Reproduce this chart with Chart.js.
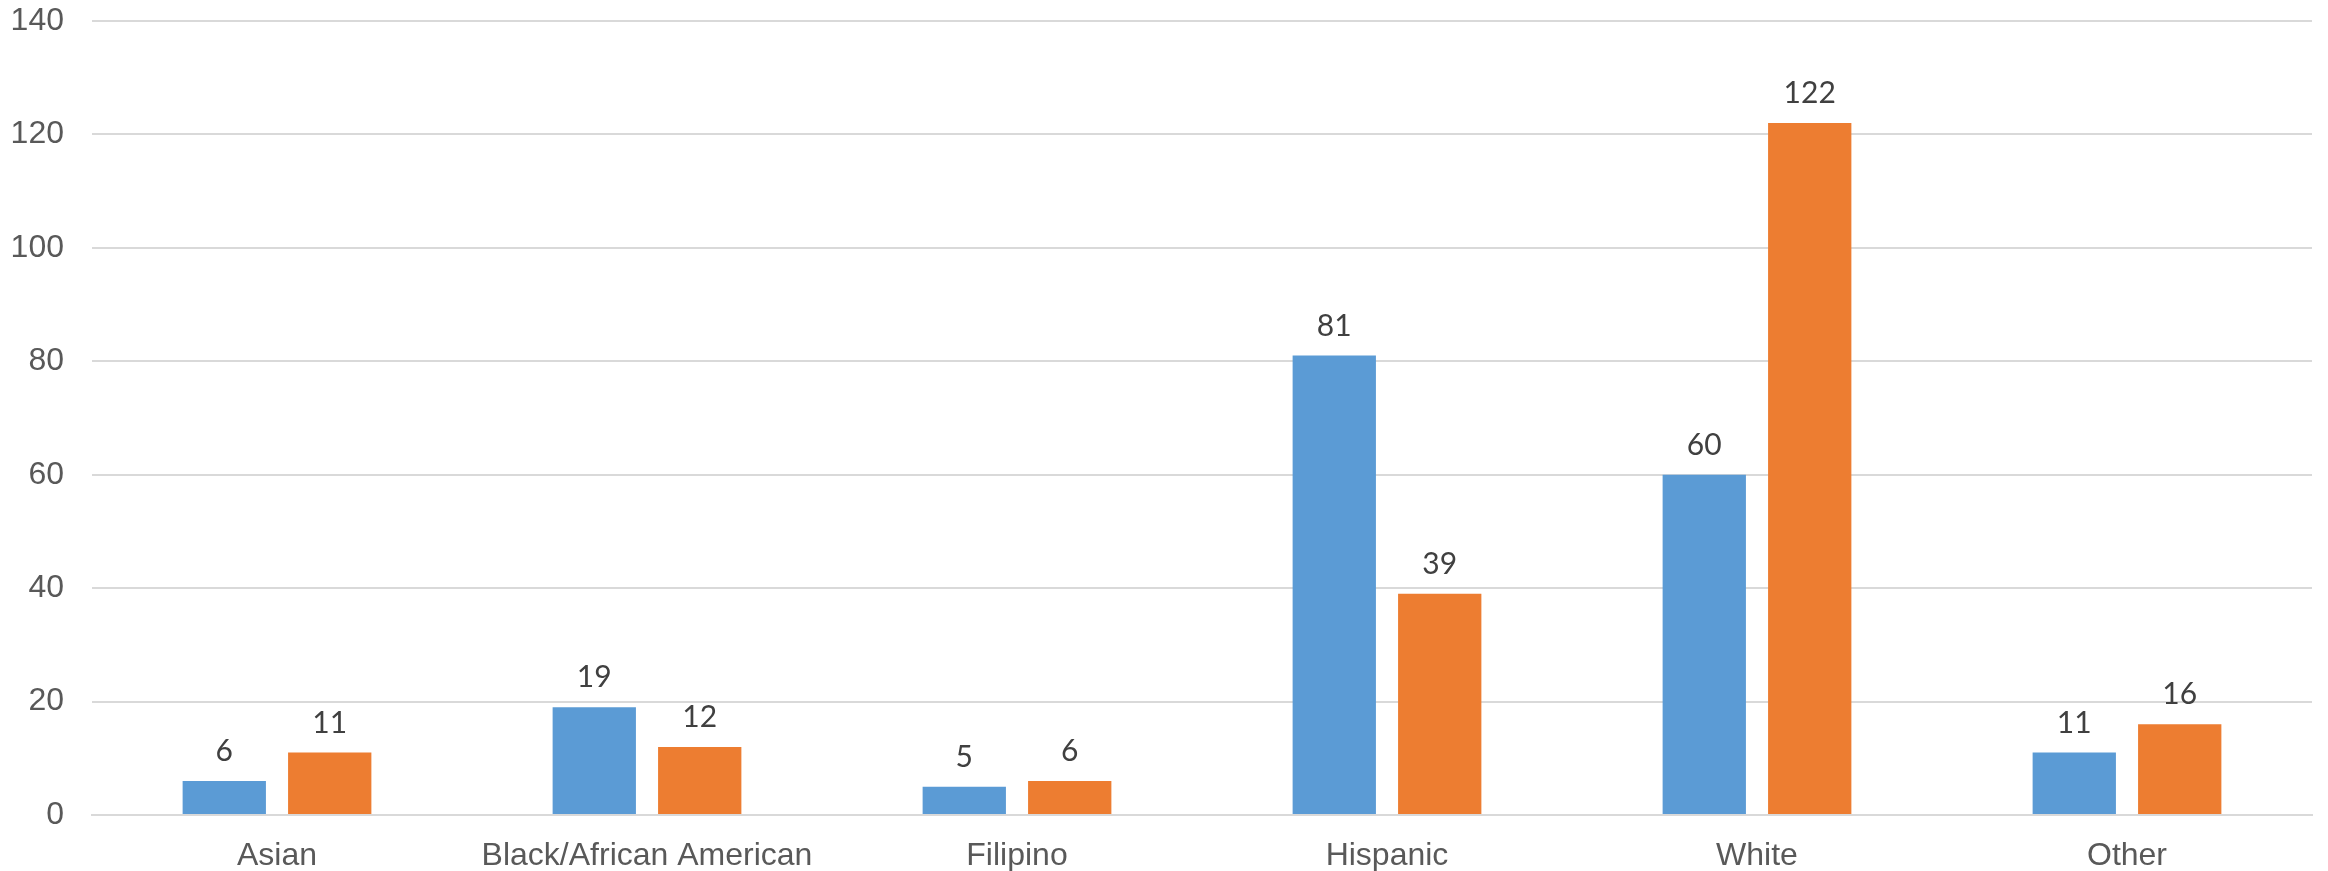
<!DOCTYPE html>
<html>
<head>
<meta charset="utf-8">
<script src="https://cdn.jsdelivr.net/npm/chart.js@4/dist/chart.umd.min.js"></script>
<style>
  html, body { margin: 0; padding: 0; background: #fff; }
  #wrap { width: 2328px; height: 871px; }
</style>
</head>
<body>
<div id="wrap"><canvas id="chart" width="2328" height="871"></canvas></div>
<script>
// Chart data
const categories = ['Asian', 'Black/African American', 'Filipino', 'Hispanic', 'White', 'Other'];
const seriesA = [6, 19, 5, 81, 60, 11];
const seriesB = [11, 12, 6, 39, 122, 16];
const yTicks = [0, 20, 40, 60, 80, 100, 120, 140];

// Draws the value above each bar
const valueLabels = {
    id: 'valueLabels',
    afterDatasetsDraw(chart) {
        const ctx = chart.ctx;
        ctx.save();
        ctx.font = '30px Lato, "Open Sans", sans-serif';
        ctx.fillStyle = '#404040';
        ctx.textAlign = 'center';
        ctx.textBaseline = 'alphabetic';
        chart.data.datasets.forEach((ds, i) => {
            chart.getDatasetMeta(i).data.forEach((bar, j) => {
                ctx.fillText(String(ds.data[j]), bar.x, bar.y - 20);
            });
        });
        ctx.restore();
    }
};

const ctx = document.getElementById('chart').getContext('2d');

new Chart(ctx, {
    type: 'bar',
    data: {
        labels: categories,
        datasets: [
            {
                data: seriesA,
                backgroundColor: '#5B9BD5',
                barPercentage: 0.79,
                categoryPercentage: 0.57
            },
            {
                data: seriesB,
                backgroundColor: '#ED7D31',
                barPercentage: 0.79,
                categoryPercentage: 0.57
            }
        ]
    },
    options: {
        responsive: false,
        devicePixelRatio: 1,
        animation: false,
        layout: { padding: { top: 21, right: 16, left: 0, bottom: 0 } },
        plugins: {
            legend: { display: false },
            tooltip: { enabled: false }
        },
        scales: {
            x: {
                grid: { display: false },
                border: { color: '#D9D9D9', width: 2 },
                ticks: {
                    color: '#595959',
                    font: { family: '"Liberation Sans", Arial, sans-serif', size: 32 },
                    padding: 14,
                    maxRotation: 0,
                    autoSkip: false
                },
                afterFit(scale) { scale.height = 56; }
            },
            y: {
                min: 0,
                max: 140,
                afterBuildTicks(scale) {
                    scale.ticks = yTicks.map(v => ({ value: v }));
                },
                // invisible tick marks keep the labels away from the plot
                grid: { color: '#D9D9D9', lineWidth: 2, drawTicks: true, tickLength: 28, tickColor: 'rgba(0,0,0,0)' },
                border: { display: false },
                ticks: {
                    color: '#595959',
                    font: { family: '"Liberation Sans", Arial, sans-serif', size: 32 },
                    padding: 0
                },
                afterFit(scale) { scale.width = 92; }
            }
        }
    },
    plugins: [valueLabels]
});
</script>
</body>
</html>
